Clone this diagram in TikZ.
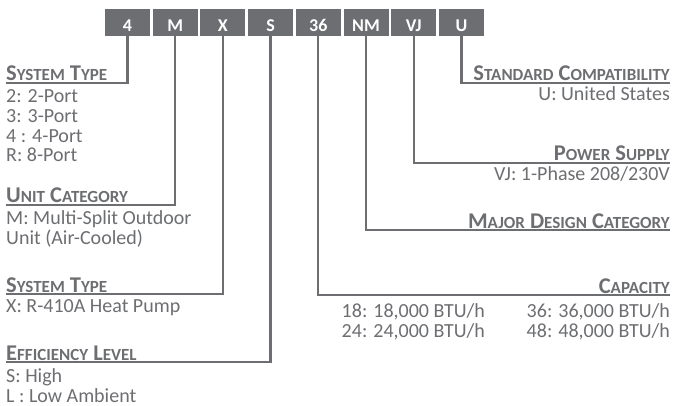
\documentclass[tikz,border=0pt]{standalone}
\usepackage{fontspec}
\setmainfont{Carlito}
\usetikzlibrary{positioning}
\definecolor{codegray}{HTML}{6D6E71}
\newcommand\hsc[1]{{\fontsize{17}{17}\selectfont#1}}

\begin{document}
\begin{tikzpicture}[x=1pt,y=-1pt,
  cbox/.style={fill=codegray,text=white,font=\bfseries\fontsize{18}{18}\selectfont,minimum width=45pt,inner xsep=0pt,inner ysep=0pt,text height=23pt,text depth=4pt},
  conn/.style={draw=codegray,line width=2.3pt},
  hd/.style={text=codegray,font=\bfseries\fontsize{22.5}{22}\selectfont,inner sep=0pt},
  it/.style={text=codegray,font=\fontsize{20}{20}\selectfont,inner sep=0pt}]
\useasboundingbox (0,0) rectangle (674,406);
% code boxes
\foreach \t [count=\i] in {4,M,X,S,36,NM,VJ,U}
  \node[cbox] (b\i) at ({79.8+47.7*\i},22.5) {\t};
% line ends
\coordinate (e1) at (6,83);\coordinate (e2) at (6,205);\coordinate (e3) at (6,294);\coordinate (e4) at (6,362);
\coordinate (e5) at (670,295);\coordinate (e6) at (670,230);\coordinate (e7) at (670,163);\coordinate (e8) at (670,83);
\foreach \i in {1,...,8}{\draw[conn] (b\i.south) |- (e\i);}
% left side
\node[hd,anchor=base west] (h1) at (6,81) {S\hsc{YSTEM} T\hsc{YPE}};
\node[it,anchor=base west] (s1a) at (6,103) {2: 2-Port};\node[it,anchor=base west] (s1b) at (6,123) {3: 3-Port};
\node[it,anchor=base west] (s1c) at (6,143) {4 : 4-Port};\node[it,anchor=base west] (s1d) at (6,162) {R: 8-Port};
\node[hd,anchor=base west] (h2) at (6,203) {U\hsc{NIT} C\hsc{ATEGORY}};
\node[it,anchor=base west] (s2a) at (6,224) {M: Multi-Split Outdoor};\node[it,anchor=base west] (s2b) at (6,244) {Unit (Air-Cooled)};
\node[hd,anchor=base west] (h3) at (6,292) {S\hsc{YSTEM} T\hsc{YPE}};
\node[it,anchor=base west] (s3a) at (6,312) {X: R-410A Heat Pump};
\node[hd,anchor=base west] (h4) at (6,360) {E\hsc{FFICIENCY} L\hsc{EVEL}};
\node[it,anchor=base west] (s4a) at (6,382) {S: High};\node[it,anchor=base west] (s4b) at (6,402) {L : Low Ambient};
% right side
\node[hd,anchor=base east] (h8) at (670,81) {S\hsc{TANDARD} C\hsc{OMPATIBILITY}};
\node[it,anchor=base east] (s8a) at (670,101) {U: United States};
\node[hd,anchor=base east] (h7) at (670,161) {P\hsc{OWER} S\hsc{UPPLY}};
\node[it,anchor=base east] (s7a) at (670,181) {VJ: 1-Phase 208/230V};
\node[hd,anchor=base east] (h6) at (670,228) {M\hsc{AJOR} D\hsc{ESIGN} C\hsc{ATEGORY}};
\node[hd,anchor=base east] (h5) at (670,293) {C\hsc{APACITY}};
\node[it,anchor=base east] (s5a) at (485,317) {18: 18,000 BTU/h};\node[it,anchor=base east] (s5b) at (485,337) {24: 24,000 BTU/h};
\node[it,anchor=base east] (s5c) at (670,317) {36: 36,000 BTU/h};\node[it,anchor=base east] (s5d) at (670,337) {48: 48,000 BTU/h};
\end{tikzpicture}
\end{document}
